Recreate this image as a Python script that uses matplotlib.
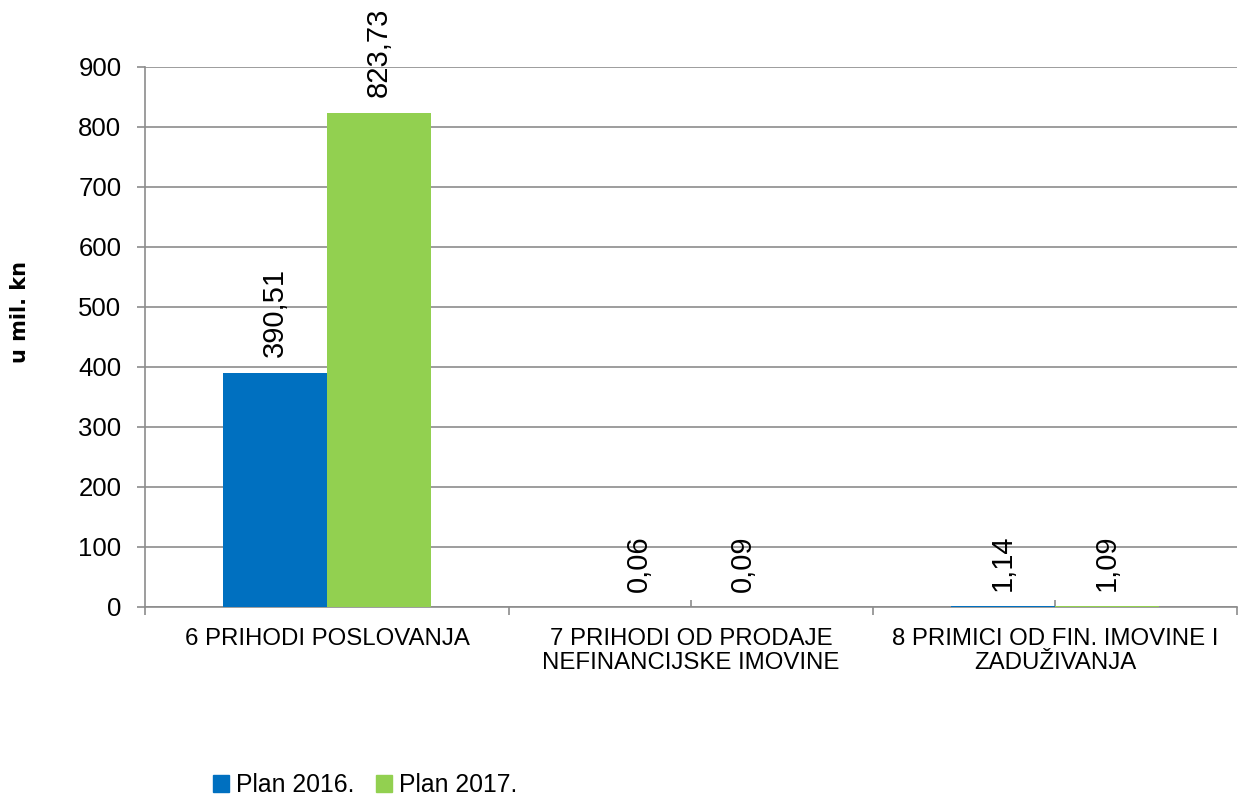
import numpy as np
import matplotlib
matplotlib.use("Agg")
import matplotlib.pyplot as plt
from matplotlib.patches import Patch

categories = ["6 PRIHODI POSLOVANJA",
              "7 PRIHODI OD PRODAJE\nNEFINANCIJSKE IMOVINE",
              "8 PRIMICI OD FIN. IMOVINE I\nZADUŽIVANJA"]
plan_2016 = [390.51, 0.06, 1.14]
plan_2017 = [823.73, 0.09, 1.09]
series_names = ["Plan 2016.", "Plan 2017."]
y_ticks = [0, 100, 200, 300, 400, 500, 600, 700, 800, 900]

blue = "#0070C0"
green = "#92D050"
grid_col = "#8C8C8C"

plt.rcParams["font.family"] = ["Liberation Sans", "DejaVu Sans"]

fig = plt.figure(figsize=(12.39, 7.97), dpi=100)
ax = fig.add_axes([145 / 1239, 1 - 607 / 797, 1092 / 1239, 540 / 797])

x = np.arange(len(categories))
w = 0.285
for vals, off, col in [(plan_2016, -w / 2, blue), (plan_2017, w / 2, green)]:
    ax.bar(x + off, vals, width=w, color=col, zorder=3)
    for xi, v in zip(x + off, vals):
        ax.annotate(f"{v:.2f}".replace(".", ","), xy=(xi, v), xytext=(0, 11),
                    textcoords="offset points", rotation=90, ha="center",
                    va="bottom", fontsize=21, annotation_clip=False, zorder=4)

ax.set_xlim(-0.5, len(categories) - 0.5)
ax.set_ylim(0, 900)
ax.set_yticks(y_ticks)
ax.set_yticklabels([str(t) for t in y_ticks], fontsize=18.5)
ax.yaxis.grid(True, color=grid_col, linewidth=1.2, zorder=0)

# category boundaries: outward ticks, centres: inward ticks
ax.set_xticks(np.arange(-0.5, len(categories), 1.0))
ax.set_xticklabels([])
ax.set_xticks(x, minor=True)
ax.tick_params(axis="x", which="major", direction="out", length=6,
               color=grid_col, width=1.2)
ax.tick_params(axis="x", which="minor", direction="in", length=5,
               color=grid_col, width=1.2)
ax.tick_params(axis="y", direction="out", length=6, color=grid_col,
               width=1.2, pad=11)

for i, lab in enumerate(categories):
    ax.annotate(lab, xy=(i, 0), xycoords=("data", "axes fraction"),
                xytext=(0, -15), textcoords="offset points", ha="center",
                va="top", fontsize=17.3, linespacing=1.1)

for s in ["top", "right"]:
    ax.spines[s].set_visible(False)
for s in ["left", "bottom"]:
    ax.spines[s].set_color(grid_col)
    ax.spines[s].set_linewidth(1.2)

fig.text(20 / 1239, 1 - 312 / 797, "u mil. kn", rotation=90, ha="center",
         va="center", fontsize=15, fontweight="bold", family="DejaVu Sans")

handles = [Patch(color=blue), Patch(color=green)]
fig.legend(handles, series_names, loc="center",
           bbox_to_anchor=(365 / 1239, 1 - 785 / 797), ncol=2, frameon=False,
           fontsize=17.8, handlelength=0.65, handleheight=0.65,
           handletextpad=0.3, columnspacing=0.85)

fig.savefig("out.png", dpi=100)
